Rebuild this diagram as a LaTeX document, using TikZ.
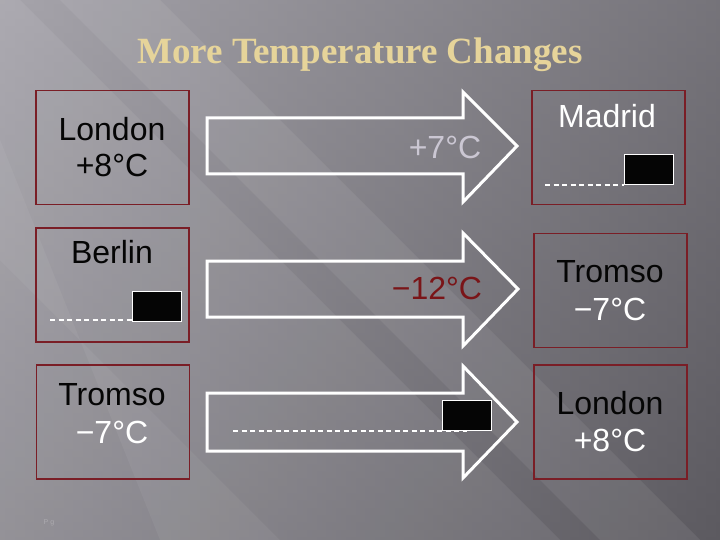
\documentclass[tikz,border=0pt]{standalone}
\usepackage{fontspec}
\setmainfont{Liberation Sans}
\newfontfamily\titlefont{Liberation Serif}
\definecolor{bgL}{HTML}{A6A4AB}
\definecolor{bgR}{HTML}{5C5A60}
\definecolor{boxred}{HTML}{7A1E26}
\definecolor{titlecol}{HTML}{E6D49A}
\definecolor{lav}{HTML}{CBC7D3}
\definecolor{redtxt}{HTML}{7A1518}
\definecolor{ink}{HTML}{050505}
\begin{document}
\begin{tikzpicture}[x=1pt,y=-1pt,
  cbox/.style={draw=boxred,line width=1.1pt,minimum width=153pt,minimum height=114pt,inner sep=0pt},
  lbl/.style={font=\fontsize{32}{36}\selectfont,inner sep=0pt,text=ink},
  wlbl/.style={lbl,text=white},
  bigarrow/.style={draw=white,line width=3pt,line join=miter},
  blank/.style={fill=ink,draw=white,line width=1pt,minimum width=49pt,minimum height=30pt,inner sep=0pt},
  dline/.style={draw=white,line width=1.1pt,dash pattern=on 5pt off 3.5pt}]
\useasboundingbox (0,0) rectangle (720,540);
% background
\shade[left color=bgL,right color=bgR] (0,0) rectangle (720,540);
\shade[top color=bgL,bottom color=bgR,opacity=0.35] (0,0) rectangle (720,540);
\fill[white,opacity=0.07] (0,-20) -- (320,300) -- (320+240,540) -- (0,540) -- cycle;
\fill[white,opacity=0.07] (60,0) -- (160,0) -- (700,540) -- (600,540) -- cycle;
\fill[white,opacity=0.05] (0,140) -- (0,260) -- (280,540) -- (160,540) -- cycle;
% title
\node[font=\titlefont\bfseries\fontsize{37}{42}\selectfont,text=titlecol] (title) at (360,55) {More Temperature Changes};
% left boxes
\node[cbox] (L1) at (112.5,147.5) {};
\node[cbox] (L2) at (112.5,285) {};
\node[cbox] (L3) at (113,422) {};
% right boxes
\node[cbox] (R1) at (608.5,147.5) {};
\node[cbox] (R2) at (610.5,290.5) {};
\node[cbox] (R3) at (610.5,422) {};
% arrows
\draw[bigarrow] (207,118) -- (463,118) -- (463,92) -- (517,146) -- (463,202) -- (463,174) -- (207,174) -- cycle;
\draw[bigarrow] (207,261) -- (463,261) -- (463,233) -- (518,289) -- (463,346) -- (463,317) -- (207,317) -- cycle;
\draw[bigarrow] (207,393) -- (463,393) -- (463,366) -- (517,422) -- (463,478) -- (463,451) -- (207,451) -- cycle;
% texts left
\node[lbl] (t1a) at (112,129) {London};
\node[lbl] (t1b) at (112,165) {+8°C};
\node[lbl] (t2a) at (112,252) {Berlin};
\node[lbl] (t3a) at (112,395) {Tromso};
\node[wlbl] (t3b) at (112,432) {−7°C};
% texts right
\node[wlbl] (r1a) at (607,116) {Madrid};
\node[lbl] (r2a) at (610,272) {Tromso};
\node[wlbl] (r2b) at (610,309) {−7°C};
\node[lbl] (r3a) at (610,403) {London};
\node[wlbl] (r3b) at (610,440) {+8°C};
% arrow labels
\node[lbl,text=lav] (a1) at (445,147) {+7°C};
\node[lbl,text=redtxt] (a2) at (437,288) {−12°C};
% blanks
\coordinate (d1s) at (545,185);
\node[blank,anchor=south west] (b1) at (624,185) {};
\draw[dline] (d1s) -- (b1.south west);
\coordinate (d2s) at (50,320);
\coordinate (d2e) at (132,320);
\node[blank,anchor=south west] (b2) at (132,322) {};
\draw[dline] (d2s) -- (d2e);
\coordinate (d3s) at (233,431);
\coordinate (d3e) at (467,431);
\draw[dline] (d3s) -- (d3e);
\node[blank,anchor=south west] (b3) at (442,431) {};
% footer
\node[font=\fontsize{7}{8}\selectfont,text=white,opacity=0.25] (pg) at (49,523) {P g};
\end{tikzpicture}
\end{document}
